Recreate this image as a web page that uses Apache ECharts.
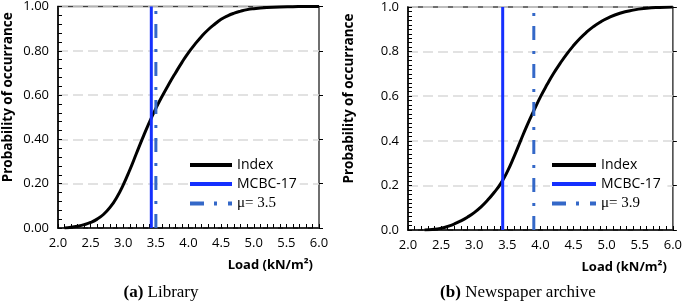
<!DOCTYPE html>
<html>
<head>
<meta charset="utf-8">
<script src="https://cdn.jsdelivr.net/npm/echarts@6/dist/echarts.min.js"></script>
<style>
  html, body { margin: 0; padding: 0; background: #fff; }
  #chart { width: 685px; height: 305px; }
</style>
</head>
<body>
<div id="chart"></div>
<script>
// values
const libLoad = [2.1, 2.2, 2.3, 2.4, 2.5, 2.6, 2.7, 2.8, 2.9, 3.0, 3.1, 3.2, 3.3, 3.4, 3.5, 3.6, 3.7, 3.8, 3.9, 4.0,
                 4.1, 4.2, 4.3, 4.4, 4.5, 4.6, 4.7, 4.8, 4.9, 5.0, 5.2, 5.4, 5.6, 5.8, 6.0];
const libProb = [0.000, 0.003, 0.008, 0.015, 0.025, 0.040, 0.062, 0.094, 0.138, 0.195, 0.262, 0.335, 0.408, 0.477,
                 0.540, 0.597, 0.650, 0.700, 0.748, 0.792, 0.830, 0.865, 0.895, 0.920, 0.942, 0.958, 0.970, 0.979,
                 0.986, 0.990, 0.995, 0.998, 0.999, 1.000, 1.000];

const archLoad = [2.25, 2.4, 2.5, 2.6, 2.7, 2.8, 2.9, 3.0, 3.1, 3.2, 3.3, 3.4, 3.5, 3.6, 3.7, 3.8, 3.9, 4.0, 4.1, 4.2,
                  4.3, 4.4, 4.5, 4.6, 4.7, 4.8, 4.9, 5.0, 5.2, 5.4, 5.6, 5.8, 6.0];
const archProb = [0.000, 0.003, 0.008, 0.016, 0.027, 0.041, 0.058, 0.078, 0.103, 0.133, 0.168, 0.208, 0.262, 0.328,
                  0.400, 0.470, 0.535, 0.597, 0.652, 0.703, 0.748, 0.790, 0.827, 0.860, 0.888, 0.912, 0.932, 0.948,
                  0.972, 0.986, 0.994, 0.998, 1.000];

const mcbcLoad = 3.43;
const libMean = 3.5;
const archMean = 3.9;

const seriesNames = ['Index', 'MCBC-17'];
const libMuName = 'μ= 3.5';
const archMuName = 'μ= 3.9';
const captions = [['(a)', 'Library'], ['(b)', 'Newspaper archive']];
const yName = 'Probability of occurrance';
const xName = 'Load (kN/m²)';

const sans = '"Open Sans", sans-serif';
const serif = '"Liberation Serif", serif';

function pairs(xs, ys) {
    return xs.map((x, i) => [x, ys[i]]);
}

function mainX(grid, sub) {
    return {
        gridIndex: grid, type: 'value', min: 2, max: 6, interval: 0.5,
        axisLine: { lineStyle: { color: '#000', width: 1.5 } },
        axisTick: { inside: true, length: 4, lineStyle: { color: '#000', width: 1 } },
        minorTick: { show: true, splitNumber: sub, length: 4, lineStyle: { color: '#000', width: 1 } },
        splitLine: { show: false },
        axisLabel: { color: '#000', fontFamily: sans, fontSize: 13, margin: 9, formatter: v => v.toFixed(1) },
        name: xName, nameLocation: 'end', nameGap: -6,
        nameTextStyle: { color: '#000', fontFamily: sans, fontSize: 13, fontWeight: 'bold',
                         align: 'right', verticalAlign: 'top', padding: [31, 0, 0, 0] }
    };
}
function overX(grid) {
    return {
        gridIndex: grid, type: 'value', min: 2, max: 6, interval: 0.5,
        axisLine: { show: false }, axisLabel: { show: false }, splitLine: { show: false },
        axisTick: { length: 4, lineStyle: { color: '#000', width: 1 } }
    };
}
function mainY(grid, sub, digits, gap) {
    return {
        gridIndex: grid, type: 'value', min: 0, max: 1, interval: 0.2,
        axisLine: { show: true, lineStyle: { color: '#000', width: 1.5 } },
        axisTick: { show: true, inside: true, length: 4, lineStyle: { color: '#000', width: 1 } },
        minorTick: { show: true, splitNumber: sub, length: 4, lineStyle: { color: '#000', width: 1 } },
        splitLine: { show: true, lineStyle: { color: '#d9d9d9', width: 1.5, type: [10, 5] } },
        axisLabel: { color: '#000', fontFamily: sans, fontSize: 13, margin: 9, formatter: v => v.toFixed(digits) },
        name: yName, nameLocation: 'middle', nameGap: gap,
        // shift the title up, as in the picture
        nameTextStyle: { color: '#000', fontFamily: sans, fontSize: 13.5, fontWeight: 'bold', padding: [0, 0, 0, 40] }
    };
}
function overY(grid) {
    return {
        gridIndex: grid, type: 'value', min: 0, max: 1, interval: 0.2,
        axisLine: { show: false }, axisLabel: { show: false }, splitLine: { show: false },
        axisTick: { show: true, length: 4, lineStyle: { color: '#000', width: 1 } }
    };
}

function legendFor(left, iconW, names) {
    return {
        orient: 'vertical', left: left, top: 156,
        data: names,
        itemWidth: iconW, itemHeight: 14, itemGap: 5,
        padding: [2, 3, 2, 0],
        backgroundColor: '#fff',
        itemStyle: { color: 'rgba(0,0,0,0)', borderWidth: 0 },
        lineStyle: { width: 4 },
        textStyle: { color: '#000', fontFamily: sans, fontSize: 14,
                     rich: { s: { fontFamily: serif, fontSize: 15, color: '#000' } } },
        formatter: n => n.startsWith('μ') ? '{s|' + n + '}' : n
    };
}

function curveSeries(xi, yi, name, data) {
    return { name: name, type: 'line', xAxisIndex: xi, yAxisIndex: yi, data: data,
             smooth: true, showSymbol: false, symbol: 'none', color: '#000',
             lineStyle: { color: '#000', width: 3 } };
}
function vline(xi, yi, name, x, color, dash) {
    return { name: name, type: 'line', xAxisIndex: xi, yAxisIndex: yi, data: [[x, 0], [x, 1]],
             showSymbol: false, symbol: 'none', color: color,
             lineStyle: { color: color, width: 3, type: dash } };
}

const chart = echarts.init(document.getElementById('chart'));
const muDash = [14, 10, 3, 11];

chart.setOption({
    animation: false,
    grid: [
        { left: 55, right: 366, top: 6, bottom: 77, show: true, borderColor: '#404040', borderWidth: 1.5 },
        { left: 408, right: 11, top: 7, bottom: 75, show: true, borderColor: '#404040', borderWidth: 1.5 }
    ],
    xAxis: [mainX(0, 5), overX(0), mainX(1, 5), overX(1)],
    yAxis: [mainY(0, 5, 2, 43), overY(0), mainY(1, 10, 1, 52), overY(1)],
    legend: [
        legendFor(188, 42, [seriesNames[0], seriesNames[1], libMuName]),
        legendFor(550, 44, [seriesNames[0] + ' ', seriesNames[1] + ' ', archMuName])
    ],
    series: [
        curveSeries(0, 0, seriesNames[0], pairs(libLoad, libProb)),
        vline(0, 0, seriesNames[1], mcbcLoad, '#1530ff', 'solid'),
        vline(0, 0, libMuName, libMean, '#3468c8', muDash),
        curveSeries(2, 2, seriesNames[0] + ' ', pairs(archLoad, archProb)),
        vline(2, 2, seriesNames[1] + ' ', mcbcLoad, '#1530ff', 'solid'),
        vline(2, 2, archMuName, archMean, '#3468c8', muDash)
    ],
    graphic: captions.map((c, i) => ({
        type: 'text', x: i === 0 ? 161 : 518, y: 293,
        style: {
            text: '{b|' + c[0] + '} ' + c[1],
            align: 'center', verticalAlign: 'middle',
            font: '17px ' + serif, fill: '#000',
            rich: { b: { fontFamily: serif, fontSize: 17, fontWeight: 'bold', fill: '#000' } }
        }
    }))
});
</script>
</body>
</html>
